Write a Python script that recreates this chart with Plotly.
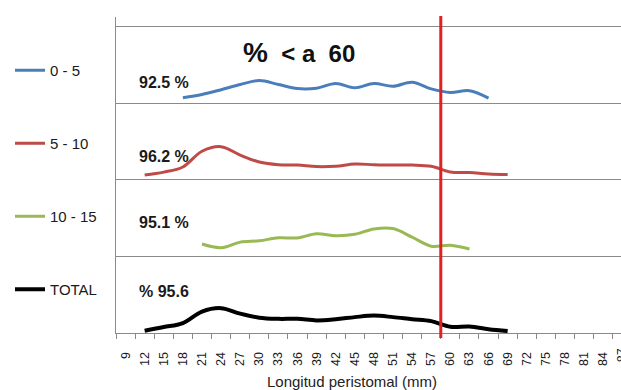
import plotly.graph_objects as go

# Peristomal length categories (mm), one every 3 mm
length_mm = list(range(9, 88, 3))

# Relative frequency (%) of each length class, per age group
x_0_5 = [18, 21, 24, 27, 30, 33, 36, 39, 42, 45, 48, 51, 54, 57, 60, 63, 66]
y_0_5 = [3.0, 4.7, 7.2, 9.9, 12.0, 9.9, 7.8, 8.0, 10.4, 8.2, 10.4, 9.0, 11.1, 7.6, 5.7, 6.7, 2.8]

x_5_10 = [12, 15, 18, 21, 24, 27, 30, 33, 36, 39, 42, 45, 48, 51, 54, 57, 60, 63, 66, 69]
y_5_10 = [2.6, 4.1, 6.8, 15.0, 17.4, 13.0, 9.4, 8.0, 7.8, 7.0, 7.2, 8.3, 8.0, 7.8, 7.8, 7.2, 4.2, 3.9, 3.1, 2.8]

x_10_15 = [21, 24, 27, 30, 33, 36, 39, 42, 45, 48, 51, 54, 57, 60, 63]
y_10_15 = [6.5, 4.6, 7.5, 8.2, 9.8, 9.7, 11.9, 10.9, 11.6, 14.4, 14.6, 10.1, 5.4, 5.9, 3.9]

x_total = [12, 15, 18, 21, 24, 27, 30, 33, 36, 39, 42, 45, 48, 51, 54, 57, 60, 63, 66, 69]
y_total = [1.2, 3.1, 5.2, 11.2, 13.0, 10.1, 8.0, 7.4, 7.4, 6.6, 7.2, 8.3, 9.1, 8.3, 7.2, 6.2, 3.3, 3.4, 2.0, 1.0]

groups = ["0 - 5", "5 - 10", "10 - 15", "TOTAL"]
share_below = ["92.5 %", "96.2 %", "95.1 %", "% 95.6"]
threshold_mm = 60

# Styling
colors = ["#4a7ebb", "#be4b48", "#98b954", "#000000"]
widths = [3, 3, 3, 4]
label_lift = [0.28, 0.31, 0.45, 0.545]   # height of each share label inside its band
band_span = 40.0          # % covered by one horizontal band
grid_col = "#8a8a8a"
font_fam = "Liberation Sans, Arial, sans-serif"
txt_col = "#1a1a1a"

series = [(x_0_5, y_0_5), (x_5_10, y_5_10), (x_10_15, y_10_15), (x_total, y_total)]
n_bands = len(series)

fig = go.Figure()
for i, (xs, ys) in enumerate(series):
    offset = n_bands - 1 - i
    fig.add_trace(go.Scatter(
        x=xs,
        y=[offset + v / band_span for v in ys],
        mode="lines",
        line=dict(color=colors[i], width=widths[i], shape="spline", smoothing=1.0),
        name=groups[i],
        legendgroup=groups[i],
        hoverinfo="skip",
    ))

# Per-band share labels
for i, lab in enumerate(share_below):
    offset = n_bands - 1 - i
    fig.add_annotation(
        x=10.8, y=offset + label_lift[i], xref="x", yref="y",
        text=f"<b>{lab}</b>", showarrow=False, xanchor="left", yanchor="middle",
        font=dict(family=font_fam, size=16, color=txt_col),
    )

# Headline
fig.add_annotation(
    x=27.2, y=3.66, xref="x", yref="y",
    text=f"<b><span style='font-size:28px'>%</span>\u00a0\u00a0<\u00a0a\u00a0\u00a0{threshold_mm}</b>",
    showarrow=False, xanchor="left", yanchor="middle",
    font=dict(family=font_fam, size=24, color="#111111"),
)

x_lo, x_hi = 7.5, 86.8
y_lo, y_hi = 0.0, 4.13
plot_w = 621 - 116
plot_h = 390 - 17 - 57

# Threshold marker on the category boundary just before the threshold
cut = threshold_mm - 1.5
fig.add_shape(
    type="line", xref="paper", yref="paper",
    x0=(cut - x_lo) / (x_hi - x_lo), x1=(cut - x_lo) / (x_hi - x_lo),
    y0=-0.016, y1=1.003,
    line=dict(color="#e31f1f", width=3),
)

# Last category label sits past the right edge of the axis range
last = length_mm[-1]
fig.add_annotation(
    x=(last - x_lo) / (x_hi - x_lo), y=-13 / plot_h, xref="paper", yref="paper",
    text=str(last), textangle=-90, showarrow=False,
    xanchor="center", yanchor="top",
    font=dict(family=font_fam, size=12.5, color=txt_col),
)

# Axis title
fig.add_annotation(
    x=0.467, y=-0.152, xref="paper", yref="paper",
    text="Longitud peristomal (mm)", showarrow=False,
    xanchor="center", yanchor="middle",
    font=dict(family=font_fam, size=15, color="#222222"),
)

boundaries = [v - 1.5 for v in length_mm] + [length_mm[-1] + 1.5]

fig.update_layout(
    width=621, height=390,
    margin=dict(l=116, r=0, t=17, b=57),
    paper_bgcolor="white", plot_bgcolor="white",
    font=dict(family=font_fam, color=txt_col),
    showlegend=True,
    legend=dict(
        xref="container", yref="container",
        x=10 / 621, y=1 - 54 / 390, xanchor="left", yanchor="top",
        font=dict(family=font_fam, size=15, color=txt_col),
        tracegroupgap=50.5, bgcolor="rgba(0,0,0,0)", maxheight=390,
    ),
    xaxis=dict(
        range=[x_lo, x_hi], tickmode="array",
        tickvals=length_mm, ticktext=[str(v) for v in length_mm],
        tickangle=-90, ticks="", ticklabelstandoff=13,
        tickfont=dict(family=font_fam, size=12.5, color=txt_col),
        showgrid=False, zeroline=False,
        showline=True, linecolor=grid_col, linewidth=1.3,
        minor=dict(tickmode="array", tickvals=boundaries, ticks="outside",
                   ticklen=5, tickcolor=grid_col, tickwidth=1.2, showgrid=False),
    ),
    yaxis=dict(
        range=[y_lo, y_hi], tickmode="linear", tick0=0, dtick=1,
        showticklabels=False, ticks="",
        showgrid=True, gridcolor=grid_col, gridwidth=1.3,
        zeroline=False, showline=True, linecolor=grid_col, linewidth=1.3,
    ),
)

fig.write_html("out.html")
